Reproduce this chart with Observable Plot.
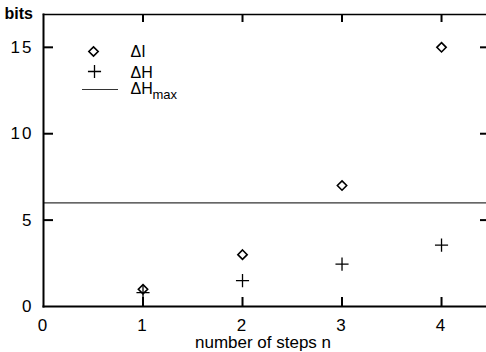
<!DOCTYPE html>
<html><head><meta charset="utf-8">
<script src="https://cdn.jsdelivr.net/npm/d3@7"></script>
<script src="https://cdn.jsdelivr.net/npm/@observablehq/plot@0.6"></script>
<style>
body{margin:0;background:#fff}
g[aria-label="x-axis tick label"] text, g[aria-label="y-axis tick label"] text {letter-spacing: 2px;}
</style>
</head><body><div id="chart"></div>
<script>
const steps = [1, 2, 3, 4];
const deltaI = [1, 3, 7, 15];
const deltaH = [0.8, 1.5, 2.45, 3.55];
const deltaHmax = 6;
const xTicks = [0, 1, 2, 3, 4];
const yTicks = [0, 5, 10, 15];
const innerTicksX = [1, 2, 3, 4];
const innerTicksY = [5, 10, 15];
const legendNames = ["ΔI", "ΔH", "ΔH"];
const yLabel = "bits";
const xLabel = "number of steps n";

const W = 486, H = 352, mL = 43, mR = 0, mT = 14, mB = 46;
const pw = W - mL - mR, ph = H - mT - mB;
const font = "Liberation Sans, Arial, Helvetica, sans-serif";

const dash = {draw(ctx, size) { const h = Math.sqrt(size / Math.PI); ctx.moveTo(-h, 0); ctx.lineTo(h, 0); }};

const chart = Plot.plot({
  width: W, height: H,
  marginLeft: mL, marginRight: mR, marginTop: mT, marginBottom: mB,
  style: {fontFamily: font, background: "#fff", color: "#000"},
  x: {domain: [0, 4.452], ticks: xTicks, label: null},
  y: {domain: [0, 16.9], ticks: yTicks, label: null},
  marks: [
    Plot.axisX(xTicks, {tickSize: 0, tickPadding: 12, fontSize: 17, label: null}),
    Plot.axisY(yTicks, {tickSize: 0, tickPadding: 10, fontSize: 17, label: null}),
    Plot.ruleY([deltaHmax], {stroke: "#333", strokeWidth: 1.2}),
    // inward ticks
    Plot.tickX(innerTicksX, {x: d => d, insetTop: ph - 9, strokeWidth: 2}),
    Plot.tickX(innerTicksX, {x: d => d, insetBottom: ph - 8, strokeWidth: 2}),
    Plot.tickY(innerTicksY, {y: d => d, insetRight: pw - 10, strokeWidth: 2}),
    Plot.tickY(innerTicksY, {y: d => d, insetLeft: pw - 6, strokeWidth: 2}),
    Plot.frame({anchor: "left", strokeWidth: 2}),
    Plot.frame({anchor: "bottom", strokeWidth: 2}),
    Plot.frame({anchor: "top", strokeWidth: 1.5}),
    // data
    Plot.dot(steps.map((s, i) => ({n: s, v: deltaI[i]})), {x: "n", y: "v", symbol: "diamond2", r: 4.2, stroke: "#000", fill: "none", strokeWidth: 1.6}),
    Plot.dot(steps.map((s, i) => ({n: s, v: deltaH[i]})), {x: "n", y: "v", symbol: "plus", r: 4.3, stroke: "#000", fill: "none", strokeWidth: 1.3}),
    // legend
    Plot.dot([0], {frameAnchor: "top-left", dx: 50, dy: 37, symbol: "diamond2", r: 4.2, stroke: "#000", fill: "none", strokeWidth: 1.6}),
    Plot.dot([0], {frameAnchor: "top-left", dx: 51, dy: 57, symbol: "plus", r: 4.3, stroke: "#000", fill: "none", strokeWidth: 1.3}),
    Plot.dot([0], {frameAnchor: "top-left", dx: 56.5, dy: 75, symbol: dash, r: 18, stroke: "#333", fill: "none", strokeWidth: 1.2}),
    Plot.text([legendNames[0]], {text: d => d, frameAnchor: "top-left", dx: 87, dy: 37, textAnchor: "start", lineAnchor: "middle", fontSize: 16}),
    Plot.text([legendNames[1]], {text: d => d, frameAnchor: "top-left", dx: 87, dy: 58, textAnchor: "start", lineAnchor: "middle", fontSize: 16}),
    Plot.text([legendNames[2]], {text: d => d, frameAnchor: "top-left", dx: 87, dy: 74.5, textAnchor: "start", lineAnchor: "middle", fontSize: 16}),
    Plot.text(["max"], {text: d => d, frameAnchor: "top-left", dx: 109, dy: 80, textAnchor: "start", lineAnchor: "middle", fontSize: 13}),
    Plot.text([yLabel], {text: d => d, frameAnchor: "top-left", dx: -39, dy: -1, textAnchor: "start", lineAnchor: "middle", fontSize: 16, fontWeight: "bold"}),
    Plot.text([xLabel], {text: d => d, frameAnchor: "bottom", dy: 36, dx: -2, lineAnchor: "middle", fontSize: 17})
  ]
});
document.getElementById("chart").append(chart);
</script>
</body></html>
